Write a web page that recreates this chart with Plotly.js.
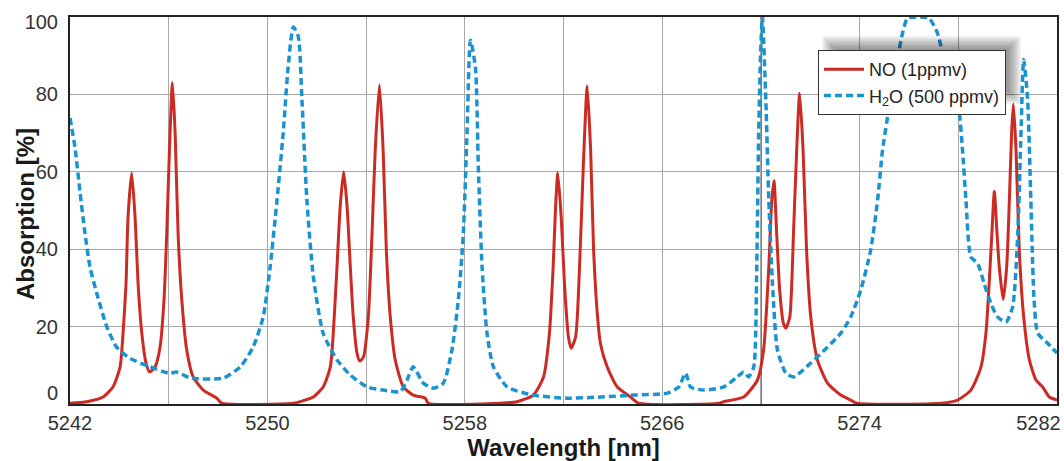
<!DOCTYPE html>
<html>
<head>
<meta charset="utf-8">
<script src="https://cdn.plot.ly/plotly-3.0.1.min.js"></script>
<style>
  html, body { margin: 0; padding: 0; background: #ffffff; }
  #chart { width: 1064px; height: 461px; }
</style>
</head>
<body>
<div id="chart"></div>
<script>
// ---- Data ----
const NO_wavelength = [
  5242.00, 5242.68, 5243.34, 5243.74, 5244.03, 5244.15, 5244.27, 5244.35, 5244.50, 5244.64,
  5244.76, 5244.91, 5245.08, 5245.22, 5245.45, 5245.65, 5245.81, 5245.92, 5246.03, 5246.15,
  5246.26, 5246.38, 5246.53, 5246.73, 5246.99, 5247.40, 5247.95, 5248.15,
  5251.05, 5251.33, 5251.86, 5252.26, 5252.55, 5252.67, 5252.82, 5252.95, 5253.09, 5253.23,
  5253.36, 5253.48, 5253.63, 5253.74, 5253.89, 5254.09, 5254.24, 5254.37, 5254.54, 5254.69,
  5254.82, 5254.98, 5255.18, 5255.51, 5255.91, 5256.40, 5256.52,
  5259.44, 5260.12, 5260.78, 5261.19, 5261.43, 5261.58, 5261.68, 5261.77, 5261.91, 5262.04,
  5262.20, 5262.31, 5262.49, 5262.65, 5262.80, 5262.96, 5263.10, 5263.22, 5263.38, 5263.50,
  5263.77, 5264.18, 5264.72, 5265.04,
  5268.30, 5268.49, 5269.30, 5269.86, 5270.11, 5270.32, 5270.44, 5270.53, 5270.64, 5270.76,
  5270.91, 5271.01, 5271.17, 5271.32, 5271.45, 5271.57, 5271.71, 5271.85, 5272.02, 5272.29,
  5272.70, 5273.24, 5273.64, 5273.89,
  5277.29, 5277.97, 5278.51, 5278.92, 5279.12, 5279.25, 5279.36, 5279.46, 5279.57, 5279.66,
  5279.82, 5279.96, 5280.07, 5280.16, 5280.23, 5280.34, 5280.47, 5280.65, 5280.88, 5281.15,
  5281.42, 5281.69, 5282.00
];
const NO_absorption = [
  0.2, 0.6, 1.8, 4.4, 9.6, 18.3, 31, 48, 59.7, 48,
  31, 18.3, 10.6, 8.3, 9.6, 14.7, 27, 44, 65.6, 83,
  70, 44, 27, 14, 7, 3.6, 1.5, 0.2,
  0.2, 0.6, 1.8, 4.4, 9.6, 18.3, 35.4, 51, 60, 51,
  35.4, 22.5, 13.2, 11.1, 12.1, 22.5, 44, 65.6, 82.4, 65.6,
  39.8, 22.5, 11.4, 4.4, 2.3, 1.5, 0.2,
  0.2, 0.6, 2.3, 7, 18.3, 35.4, 51, 59.7, 48, 31,
  17.3, 14.4, 17.3, 35.4, 61, 82.2, 65.6, 39.8, 22.5, 15.5,
  9.6, 4.4, 1.8, 0.2,
  0.2, 0.6, 1.8, 6.2, 14, 35.4, 52.7, 57.7, 44, 29.5,
  20.9, 19.6, 22.5, 44, 65.6, 80.3, 65.6, 39.8, 22.5, 11.4,
  5.4, 2.3, 1, 0.2,
  0.2, 1, 3.6, 9.6, 18.3, 31, 44, 54.9, 44, 35.4,
  27, 35.4, 52.7, 70, 77.5, 65.6, 39.8, 22.5, 11.4, 6.2,
  4.4, 1.8, 1
];

const H2O_wavelength = [
  5242.00, 5242.20, 5242.41, 5242.61, 5242.81, 5243.08, 5243.49, 5243.89, 5244.43, 5245.25,
  5246.06, 5246.30, 5246.60, 5246.87, 5248.21, 5248.90, 5249.42, 5249.83, 5250.11, 5250.39,
  5250.64, 5250.84, 5251.05, 5251.25, 5251.40, 5251.60, 5251.86, 5252.26, 5252.82, 5253.36,
  5254.04, 5254.70, 5255.39, 5255.66, 5255.91, 5256.32, 5256.73, 5257.13, 5257.48, 5257.74,
  5257.94, 5258.09, 5258.23, 5258.43, 5258.55, 5258.70, 5258.90, 5259.16, 5259.72, 5260.78,
  5262.15, 5263.50, 5264.84, 5266.21, 5266.67, 5266.95, 5267.15, 5267.68, 5268.49, 5269.05,
  5269.30, 5269.50, 5269.71, 5269.83, 5269.91, 5269.99, 5270.06, 5270.20, 5270.32, 5270.47,
  5270.67, 5271.01, 5271.33, 5272.02, 5272.70, 5273.24, 5273.64, 5274.05, 5274.45, 5274.73,
  5274.93, 5275.18, 5275.47, 5275.74, 5275.94, 5276.35, 5276.81, 5277.16, 5277.42, 5278.02,
  5278.17, 5278.31, 5278.51, 5278.78, 5279.04, 5279.32, 5279.59, 5279.93, 5280.20, 5280.41,
  5280.54, 5280.65, 5280.81, 5280.94, 5281.07, 5281.22, 5281.62, 5282.00
];
const H2O_absorption = [
  73.9, 66.4, 54.5, 44, 35.4, 28.7, 20, 14.7, 11.8, 9.6,
  7.9, 8.3, 7.5, 6.7, 6.7, 9.6, 14.7, 22.5, 35.4, 52.7,
  70, 87, 97.4, 95, 78.6, 52.7, 33, 18.3, 11.4, 7.5,
  4.4, 3.6, 3.2, 6.2, 9.6, 5.4, 4.1, 5.4, 14, 27,
  44, 70, 94, 87, 61, 35.4, 18.3, 9.6, 4.4, 2.3,
  1.5, 1.8, 2.3, 2.8, 4.4, 8, 4.4, 3.6, 4.4, 7,
  8.3, 7, 9.6, 35, 70, 91, 100, 78.6, 52.7, 31,
  14, 8, 7, 10.6, 14.7, 18.3, 22.5, 29.5, 39.8, 52.7,
  65.6, 76, 87, 95.8, 99.7, 100, 99.7, 95.8, 88.9, 76,
  65.6, 52.7, 38, 36.4, 31.3, 26, 22.5, 21.2, 25, 44,
  70, 89, 78.6, 52.7, 27, 18.3, 15.7, 13.2
];

const xTickLabels = ['5242', '5250', '5258', '5266', '5274', '5282'];
const xGridValues = [5246, 5250, 5254, 5258, 5262, 5266, 5270, 5274, 5278];
const yTickLabels = ['0', '20', '40', '60', '80', '100'];
const yGridValues = [20, 40, 60, 80];

// ---- Styling ----
const FONT = 'Liberation Sans, Arial, Helvetica, sans-serif';
const RED = '#cc2b24';
const BLUE = '#1b93cf';
const GRID = '#a8a8a8';

// pixel -> paper helpers for decorations (plot area: x 70..1057, y 17..404)
const L = 70, R = 7, T = 17, B = 57, W = 1064, H = 461;
const PW = W - L - R, PH = H - T - B;
const fx = px => (px - L) / PW;
const fy = py => 1 - (py - T) / PH;

// label positions: end labels nudged inward to stay inside the picture, as in the reference
const xLabelPositions = [5242, 5250, 5258, 5266, 5274, 5281.25];
const yLabelPositions = [2.8, 20, 40, 60, 80, 98.6];

const traces = [
  {
    x: NO_wavelength, y: NO_absorption, type: 'scatter', mode: 'lines',
    name: 'NO (1ppmv)', legendgroup: 'a',
    line: { color: RED, width: 3, shape: 'spline', smoothing: 0.6 },
    hoverinfo: 'skip'
  },
  {
    x: H2O_wavelength, y: H2O_absorption, type: 'scatter', mode: 'lines',
    name: 'H<sub>2</sub>O (500 ppmv)', legendgroup: 'b',
    line: { color: BLUE, width: 3.5, dash: '7px,4px', shape: 'spline', smoothing: 0.6 },
    hoverinfo: 'skip'
  }
];

// soft legend drop shadow (grey, offset up-right)
const shapes = [];
for (let k = 0; k < 9; k++) {
  shapes.push({
    type: 'rect', xref: 'paper', yref: 'paper', layer: 'above',
    x0: fx(834 - k * 1.5), x1: fx(1009 + k * 1.5),
    y0: fy(92 + k * 1.5), y1: fy(48 - k * 1.5),
    line: { width: 0 }, fillcolor: 'rgba(0,0,0,0.05)'
  });
}
// darker vertical line at 5270
shapes.push({
  type: 'line', xref: 'x', yref: 'paper', x0: 5270, x1: 5270, y0: 0, y1: 1,
  layer: 'between', line: { color: '#333333', width: 1.5 }
});

const layout = {
  width: W, height: H,
  margin: { l: L, r: R, t: T, b: B, pad: 0 },
  paper_bgcolor: '#ffffff', plot_bgcolor: '#ffffff',
  showlegend: true,
  legend: {
    x: fx(818), y: fy(50), xanchor: 'left', yanchor: 'top',
    bgcolor: '#ffffff', bordercolor: '#333333', borderwidth: 1,
    font: { family: FONT, size: 18, color: '#222222' },
    tracegroupgap: 0, itemwidth: 40
  },
  xaxis: {
    range: [5242, 5282], autorange: false,
    tickmode: 'array', tickvals: xLabelPositions, ticktext: xTickLabels,
    ticks: '', ticklabeloverflow: 'allow',
    tickfont: { family: FONT, size: 20, color: '#333333' },
    showgrid: false,
    minor: { tickmode: 'array', tickvals: xGridValues, showgrid: true, gridcolor: GRID, gridwidth: 1, ticks: '' },
    showline: true, linecolor: '#222222', linewidth: 2, mirror: true,
    zeroline: false, automargin: false,
    title: { text: '<b>Wavelength [nm]</b>', font: { family: FONT, size: 24, color: '#1a1a1a' }, standoff: 15 }
  },
  yaxis: {
    range: [0, 100], autorange: false,
    tickmode: 'array', tickvals: yLabelPositions, ticktext: yTickLabels,
    ticks: '', ticklabelstandoff: 6,
    tickfont: { family: FONT, size: 20, color: '#333333' },
    showgrid: false,
    minor: { tickmode: 'array', tickvals: yGridValues, showgrid: true, gridcolor: GRID, gridwidth: 1, ticks: '' },
    showline: true, linecolor: '#222222', linewidth: 2, mirror: true,
    zeroline: false, automargin: false
  },
  annotations: [{
    text: '<b>Absorption [%]</b>', textangle: -90,
    xref: 'paper', yref: 'paper', x: fx(25), y: fy(214),
    xanchor: 'center', yanchor: 'middle', showarrow: false,
    font: { family: FONT, size: 24, color: '#1a1a1a' }
  }],
  shapes: shapes
};

Plotly.newPlot('chart', traces, layout, { staticPlot: true, displayModeBar: false });
</script>
</body>
</html>
